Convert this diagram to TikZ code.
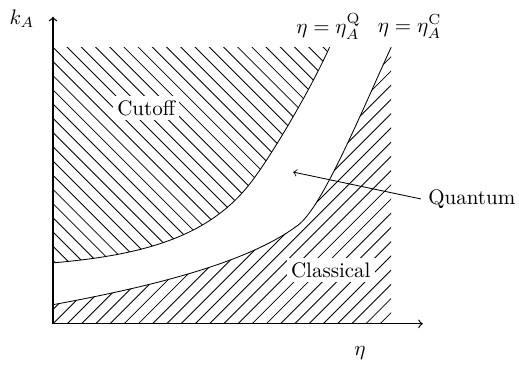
\documentclass[tikz,border=0pt]{standalone}
\usepackage{amsmath}
\usepackage{tikz}
\usetikzlibrary{arrows,calc,positioning}

\begin{document}
\begin{tikzpicture}[hatch/.style={line width=0.4pt}, axis/.style={->, line width=0.6pt}, lbl/.style={fill=white, inner sep=2pt}]
  \useasboundingbox (-0.887,-0.719) rectangle (7.80,5.42);

  % Cutoff region
  \begin{scope}
    \clip (0,4.63) -- (0,1.02) .. controls (1.5,1.15) and (2.6,1.45) .. (3.3,2.35)
      .. controls (3.65,2.8) and (4.3,3.9) .. (4.63,4.63) -- cycle;
    \foreach \k in {-16,...,20}
      \draw[hatch] (\k*0.238-5.5,10.13) -- ++(11,-11);
  \end{scope}

  % Classical region
  \begin{scope}
    \clip (0,0) -- (0,0.32) .. controls (1.8,0.65) and (3.3,1.05) .. (4.1,1.65)
      .. controls (4.5,1.95) and (5.1,3.4) .. (5.66,4.63) -- (5.66,0) -- cycle;
    \foreach \k in {-2,...,24}
      \draw[hatch] (\k*0.238-1,-1) -- ++(7,7);
  \end{scope}

  % Boundary curves
  \draw (0,1.02) .. controls (1.5,1.15) and (2.6,1.45) .. (3.3,2.35)
    .. controls (3.65,2.8) and (4.3,3.9) .. (4.63,4.63);
  \draw (0,0.32) .. controls (1.8,0.65) and (3.3,1.05) .. (4.1,1.65)
    .. controls (4.5,1.95) and (5.1,3.4) .. (5.66,4.63);

  % Axes
  \coordinate (origin) at (0,0);
  \coordinate (ytop) at (0,5.14);
  \coordinate (xend) at (6.19,0);
  \draw[axis] (origin) -- (ytop);
  \draw[axis] (origin) -- (xend);
  \node (klabel) at (-0.52,5.10) {$k_A$};
  \node (etalabel) at (5.14,-0.49) {$\eta$};

  % Curve labels
  \node[inner sep=1pt] (qlabel) at (4.61,4.98) {$\eta=\eta_A^{\mathrm{Q}}$};
  \node[inner sep=1pt] (clabel) at (5.97,4.98) {$\eta=\eta_A^{\mathrm{C}}$};

  % Region labels
  \node[lbl] (cutoff) at (1.56,3.61) {Cutoff};
  \node[lbl] (classical) at (4.65,0.90) {Classical};
  \node (quantum) at (7.01,2.09) {Quantum};
  \coordinate (qtip) at (4.02,2.54);
  \draw[->] (quantum.west) -- (qtip);
\end{tikzpicture}
\end{document}
